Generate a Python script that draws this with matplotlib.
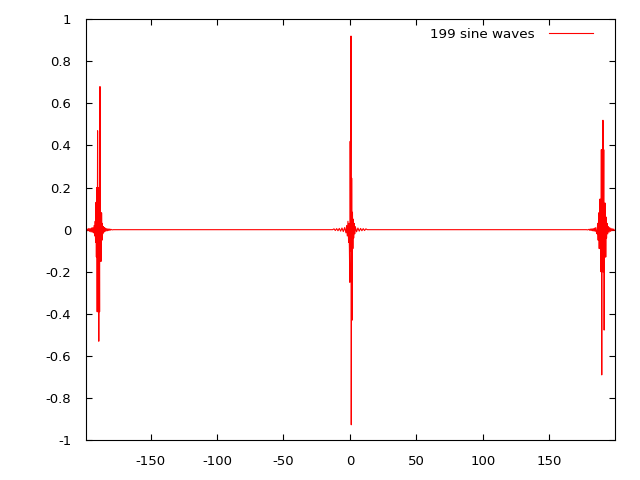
import matplotlib
matplotlib.use("Agg")
import matplotlib.pyplot as plt
from matplotlib.ticker import FuncFormatter

# Left burst near x = -189.
left_x = [-198.5, -198.0, -197.5, -197.0, -196.5, -196.0, -195.5, -195.0,
          -194.5, -194.0, -193.5, -193.0, -192.5, -192.0, -191.7, -191.4,
          -191.1, -190.8, -190.5, -190.2, -189.9, -189.6, -189.3, -189.0,
          -188.7, -188.4, -188.1, -187.8, -187.5, -187.2, -186.9, -186.6,
          -186.3, -186.0, -185.6, -185.2, -184.8, -184.4, -184.0, -183.5,
          -183.0, -182.5, -182.0, -181.5, -181.0, -180.5, -180.0, -179.0,
          -178.0]
left_y = [0.004, -0.006, 0.003, -0.004, 0.006, -0.008, 0.005, -0.010,
          0.008, -0.012, 0.010, -0.015, 0.020, -0.030, 0.040, -0.060,
          0.130, -0.130, 0.200, -0.390, 0.470, -0.390, 0.200, -0.530,
          0.200, -0.390, 0.680, -0.150, 0.080, -0.150, 0.080, -0.050,
          0.030, -0.020, 0.015, -0.012, 0.010, -0.008, 0.007, -0.006,
          0.005, -0.005, 0.004, -0.004, 0.003, -0.003, 0.002, -0.001,
          0.0]

# Central burst near x = 0.
mid_x = [-175.0, -13.0, -12.0, -11.0, -10.0, -9.0, -8.0, -7.0, -6.0,
         -5.0, -4.0, -3.0, -2.5, -2.0, -1.5, -1.0, -0.75, -0.4, -0.1,
         0.2, 0.5, 0.8, 1.0, 1.3, 1.6, 1.9, 2.2, 2.5, 2.8, 3.2, 3.6,
         4.0, 5.0, 6.0, 7.0, 8.0, 9.0, 10.0, 11.0, 12.0, 13.0, 175.0]
mid_y = [0.0, 0.0, 0.004, -0.004, 0.005, -0.005, 0.006, -0.007, 0.008,
         -0.009, 0.010, -0.015, 0.020, -0.030, 0.040, -0.060, 0.030,
         -0.088, -0.250, 0.420, -0.100, 0.920, -0.927, 0.245, -0.430,
         0.083, -0.090, 0.050, -0.040, 0.030, -0.020, 0.015, -0.010,
         0.008, -0.007, 0.006, -0.005, 0.005, -0.004, 0.004, 0.0, 0.0]

# Right burst near x = 189.
right_x = [178.0, 179.0, 180.0, 180.5, 181.0, 181.5, 182.0, 182.5, 183.0,
           183.5, 184.0, 184.5, 185.0, 185.5, 186.0, 186.4, 186.8, 187.2,
           187.6, 188.0, 188.3, 188.6, 188.9, 189.2, 189.5, 189.8, 190.1,
           190.4, 190.7, 191.0, 191.3, 191.6, 191.9, 192.2, 192.5, 192.8,
           193.1, 193.5, 194.0, 194.5, 195.0, 195.5, 196.0, 196.5, 197.0,
           197.5, 198.0, 198.5, 199.0]
right_y = [0.0, -0.001, 0.002, -0.003, 0.003, -0.004, 0.004, -0.005, 0.005,
           -0.006, 0.007, -0.008, 0.010, -0.012, -0.020, 0.030, -0.050,
           0.080, -0.090, 0.145, -0.090, 0.145, -0.200, 0.380, -0.690,
           0.380, -0.200, 0.520, -0.200, 0.380, -0.477, 0.126, -0.130,
           0.126, -0.130, 0.060, -0.040, 0.030, -0.020, 0.015, -0.012,
           0.010, -0.008, 0.006, -0.005, 0.004, -0.004, 0.003, -0.003]

x_ticks = [-150, -100, -50, 0, 50, 100, 150]
y_ticks = [-1, -0.8, -0.6, -0.4, -0.2, 0, 0.2, 0.4, 0.6, 0.8, 1]

plt.rcParams["font.family"] = ["DejaVu Sans"]
plt.rcParams["axes.unicode_minus"] = False

fig = plt.figure(figsize=(6.4, 4.8), dpi=100)
ax = fig.add_axes([0.134, 0.083, 0.827, 0.877])

# Join the three bursts into one trace.
xs = left_x + mid_x + right_x
ys = left_y + mid_y + right_y
ax.plot(xs, ys, color="#ff0000", lw=0.8, label="199 sine waves")

ax.set_xlim(-198.8, 199.5)
ax.set_ylim(-1, 1)
ax.set_xticks(x_ticks)
ax.set_yticks(y_ticks)
ax.yaxis.set_major_formatter(FuncFormatter(lambda v, p: "%g" % round(v, 2)))

ax.tick_params(direction="in", length=4, width=0.8, labelsize=9.5,
               top=True, right=True, colors="black")
ax.tick_params(axis="x", pad=10.5)
ax.tick_params(axis="y", pad=10.5)
for s in ax.spines.values():
    s.set_linewidth(0.8)

# Key in the gnuplot way: text first, then the line sample.
ax.legend(loc="upper right", bbox_to_anchor=(0.969, 0.993), frameon=False,
          markerfirst=False, fontsize=9.7, handlelength=3.3,
          borderaxespad=0, handletextpad=1.05)

plt.savefig("out.png", dpi=100)
plt.close()
